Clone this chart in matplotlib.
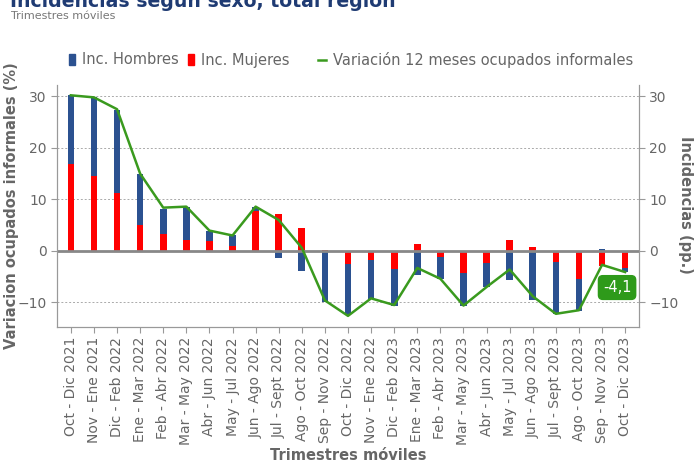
import matplotlib
matplotlib.use('Agg')
import matplotlib.pyplot as plt
from matplotlib.patches import Patch
from matplotlib.lines import Line2D

# ---- data ----
periodos = ['Oct - Dic 2021', 'Nov - Ene 2021', 'Dic - Feb 2022', 'Ene - Mar 2022',
            'Feb - Abr 2022', 'Mar - May 2022', 'Abr - Jun 2022', 'May - Jul 2022',
            'Jun - Ago 2022', 'Jul - Sept 2022', 'Ago - Oct 2022', 'Sep - Nov 2022',
            'Oct - Dic 2022', 'Nov - Ene 2022', 'Dic - Feb 2023', 'Ene - Mar 2023',
            'Feb - Abr 2023', 'Mar - May 2023', 'Abr - Jun 2023', 'May - Jul 2023',
            'Jun - Ago 2023', 'Jul - Sept 2023', 'Ago - Oct 2023', 'Sep - Nov 2023',
            'Oct - Dic 2023']
inc_hombres = [13.3, 15.2, 16.2, 9.9, 4.9, 6.5, 2.0, 2.0, 0.8, -1.4, -3.8, -9.9,
               -9.8, -7.5, -7.0, -4.7, -4.2, -6.4, -4.6, -5.6, -9.5, -10.2, -6.2,
               0.3, -0.7]
inc_mujeres = [16.9, 14.6, 11.2, 5.1, 3.3, 2.1, 1.9, 1.0, 7.8, 7.2, 4.4, 0.2,
               -2.6, -1.8, -3.6, 1.4, -1.2, -4.2, -2.4, 2.1, 0.7, -2.1, -5.4,
               -2.9, -3.3]
variacion = [30.2, 29.8, 27.5, 15.0, 8.4, 8.6, 3.95, 3.0, 8.6, 6.0, 0.6, -9.6,
             -12.6, -9.2, -10.5, -3.3, -5.4, -10.6, -7.0, -3.6, -8.8, -12.2, -11.5,
             -2.7, -4.1]
yticks = [-10, 0, 10, 20, 30]

BLUE = '#2B5190'
RED = '#FF0000'
GREEN = '#3A9A1E'
GRAY_TXT = '#666666'
GRAY_AX = '#999999'
FS = 10.5
FS_TICK = 10

fig = plt.figure(figsize=(6.94, 4.61), dpi=100, facecolor='white')
ax = fig.add_axes([57 / 694, 1 - 326.7 / 461, (639 - 57) / 694, (326.7 - 85) / 461])

x = list(range(len(periodos)))
# hombres stacked on mujeres when both have the same sign, otherwise from zero
base_h = [m if (h >= 0) == (m >= 0) else 0 for h, m in zip(inc_hombres, inc_mujeres)]

ax.bar(x, inc_mujeres, width=0.29, color=RED, zorder=2)
ax.bar(x, inc_hombres, bottom=base_h, width=0.29, color=BLUE, zorder=2)
ax.plot(x, variacion, color=GREEN, linewidth=1.8, zorder=4)

ax.axhline(0, color='#888888', linewidth=2, zorder=3)
for yv in yticks:
    if yv != 0:
        ax.axhline(yv, color='#aaaaaa', linestyle=(0, (2, 2)), linewidth=0.7, zorder=1)

ax.set_xlim(-0.6, len(periodos) - 0.4)
ax.set_ylim(-14.7, 32.2)
ax.set_yticks(yticks)
ax.set_xticks(x)
ax.set_xticklabels(periodos, rotation=90)
ax.tick_params(axis='both', colors=GRAY_AX, labelcolor=GRAY_TXT, labelsize=FS_TICK,
               length=4, width=0.8)

ax.spines['top'].set_visible(False)
for side in ['left', 'bottom', 'right']:
    ax.spines[side].set_color(GRAY_AX)

ax2 = ax.twinx()
ax2.set_ylim(ax.get_ylim())
ax2.set_yticks(yticks)
ax2.tick_params(axis='y', colors=GRAY_AX, labelcolor=GRAY_TXT, labelsize=FS_TICK,
                length=4, width=0.8)
ax2.spines['top'].set_visible(False)
for side in ['left', 'bottom', 'right']:
    ax2.spines[side].set_color(GRAY_AX)

# last value label
ax.annotate('-4,1', xy=(23.65, -7.1), ha='center', va='center', color='white',
            fontsize=FS, zorder=6,
            bbox=dict(boxstyle='round,pad=0.3', fc='#2E9A1A', ec='#2E9A1A'))

# axis labels
fig.text(12 / 694, 1 - 206 / 461, 'Variacion ocupados informales (%)',
         rotation=90, ha='center', va='center', fontsize=FS, fontweight='bold',
         color=GRAY_TXT)
fig.text(685 / 694, 1 - 205 / 461, 'Incidencias (pp.)', rotation=270,
         ha='center', va='center', fontsize=FS, fontweight='bold', color=GRAY_TXT)
fig.text(348 / 694, 1 - 455 / 461, 'Trimestres móviles', ha='center', va='center',
         fontsize=FS, fontweight='bold', color=GRAY_TXT)

# title, mostly cut off at the top like the reference
fig.text(10 / 694, 1 - 7 / 461, 'Incidencias según sexo, total región',
         ha='left', va='baseline', fontsize=13.6, fontweight='bold', color='#1F3B73')
fig.text(11 / 694, 1 - 19 / 461, 'Trimestres móviles', ha='left', va='baseline',
         fontsize=8, color='#777777')

# legends
h_bars = [Patch(color=BLUE, label='Inc. Hombres'), Patch(color=RED, label='Inc. Mujeres')]
fig.legend(handles=h_bars, loc='center left', bbox_to_anchor=(68.7 / 694, 1 - 60 / 461),
           ncol=2, frameon=False, fontsize=FS, handlelength=0.42, handleheight=0.75,
           handletextpad=0.5, columnspacing=0.6, borderpad=0, borderaxespad=0,
           labelcolor=GRAY_TXT)
h_line = [Line2D([0], [0], color=GREEN, linewidth=1.8,
                 label='Variación 12 meses ocupados informales')]
fig.legend(handles=h_line, loc='center left', bbox_to_anchor=(318 / 694, 1 - 60 / 461),
           frameon=False, fontsize=FS, handlelength=0.55, handletextpad=0.5,
           borderpad=0, borderaxespad=0, labelcolor=GRAY_TXT)

fig.savefig('out.png', dpi=100, facecolor='white')
